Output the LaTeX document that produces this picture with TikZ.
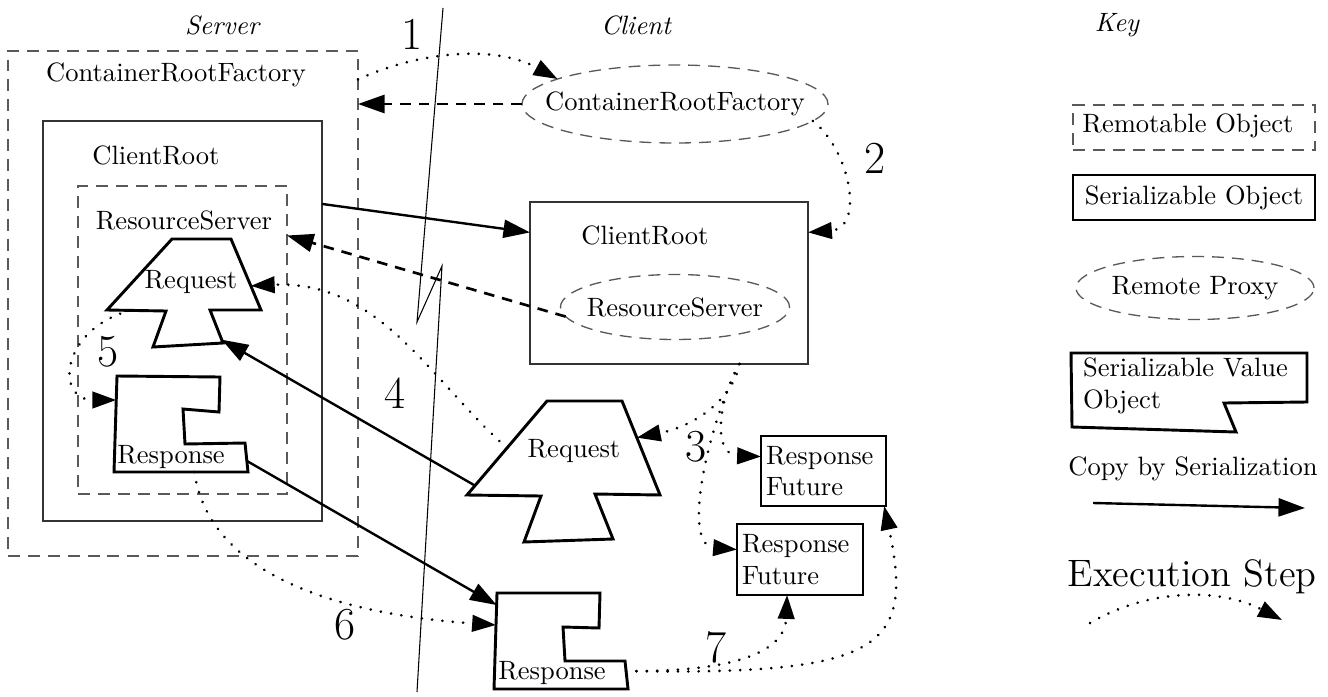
\documentclass[tikz,border=0pt]{standalone}
\usetikzlibrary{arrows.meta,shapes.geometric,fit}
\begin{document}
\begin{tikzpicture}[x=0.377pt, y=-0.377pt,
  every node/.style={inner sep=0pt, outer sep=0pt},
  remotable/.style={draw=black!65, line width=0.6pt, dash pattern=on 4.5pt off 3pt},
  serial/.style={draw=black!80, line width=0.5pt},
  proxy/.style={ellipse, draw=black!65, line width=0.5pt, dash pattern=on 4.5pt off 3pt},
  valueobj/.style={draw, line width=1.1pt, line join=miter},
  copyarrow/.style={line width=0.9pt, -{Triangle[length=10pt,width=6.8pt]}},
  refarrow/.style={line width=1pt, dash pattern=on 4pt off 3pt, -{Triangle[length=10pt,width=6.8pt]}},
  stepline/.style={line width=1.1pt, dash pattern=on 0.01pt off 3.9pt, line cap=round, -{Triangle[length=9pt,width=6.2pt]}},
  stepno/.style={font=\LARGE},
  side/.style={font=\itshape},
  sz/.style 2 args={minimum width=#1*0.377pt, minimum height=#2*0.377pt}
]
\useasboundingbox (0,0) rectangle (1328,696);

% column headings
\node[side] (hdSrv) at (222,25) {Server};
\node[side] (hdCli) at (636,25) {Client};
\node[side] (hdKey) at (1117,25) {Key};

% network boundary with its break
\draw[line width=0.4pt] (443,8) -- (417,322) -- (442,266) -- (417,692);

% ---------------- server side ----------------
\node[remotable, fit={(8,51) (358,556)}] (srvCRF) {};
\node (srvCRFlbl) at (176,75) {ContainerRootFactory};
\node[serial, fit={(43,121) (322,521)}] (srvCR) {};
\node (srvCRlbl) at (156,155) {ClientRoot};
\node[remotable, fit={(78,186) (287,494)}] (srvRS) {};
\node (srvRSlbl) at (184,220) {ResourceServer};

% request object
\draw[valueobj] (107,310) -- (172,239) -- (231,239)
  -- coordinate[pos=0.66] (srvReqR) (261,310) -- (210,310)
  -- coordinate[pos=0.9] (srvReqS) (223,343) -- (153,347) -- (166,311)
  -- coordinate[pos=0.61] (srvReqB) cycle;
\node (srvReq) at (191,282) {Request};

% response object
\draw[valueobj] (248,472) -- coordinate[pos=0.4] (srvRespB) (114,472)
  -- coordinate[pos=0.75] (srvRespL) (117,376) -- (220,377) -- (219,412)
  -- (183,409) -- (185,444) -- (245,443) -- cycle;
\coordinate (srvRespR) at (247,461);
\node (srvResp) at (171,457) {Response};

% ---------------- client side ----------------
\node[proxy, sz={306}{78}] (cliCRF) at (675,104) {};
\node (cliCRFlbl) at (cliCRF) {ContainerRootFactory};
\node[serial, fit={(530,202) (808,364)}] (cliCR) {};
\node (cliCRlbl) at (645,235) {ClientRoot};
\node[proxy, sz={229}{65}] (cliRS) at (675,307) {};
\node (cliRSlbl) at (cliRS) {ResourceServer};

\draw[valueobj] (467,495) -- coordinate[pos=0.1] (cliReqL) coordinate[pos=0.5] (cliReqM) (547,401)
  -- (622,401) -- coordinate[pos=0.39] (cliReqR) (660,495) -- (595,494)
  -- (613,539) -- (524,542) -- (541,496) -- cycle;
\node (cliReq) at (574,451) {Request};

\draw[valueobj] (494,689) -- coordinate[pos=0.667] (cliRespL) coordinate[pos=0.875] (cliRespT) (497,593)
  -- (600,593) -- (599,628) -- (563,627) -- (565,661) -- (625,661)
  -- coordinate[pos=0.36] (cliRespR) (628,689) -- cycle;
\node (cliResp) at (552,673) {Response};

\node[draw, line width=0.5pt, fit={(761,436) (886,506)}] (RF1) {};
\node[align=left, anchor=west] (RF1lbl) at (766,471) {Response\\Future};
\node[draw, line width=0.5pt, fit={(737,524) (863,595)}] (RF2) {};
\node[align=left, anchor=west] (RF2lbl) at (742,559.5) {Response\\Future};

% ---------------- connectors ----------------
\draw[stepline] (srvCRF.52) .. controls (410,55) and (490,42) .. (cliCRF.168);
\draw[refarrow] (cliCRF.west) -- (srvCRF.east |- cliCRF.west);
\draw[stepline] (cliCRF.-7) .. controls (850,150) and (865,228) .. (cliCR.20);
\draw[copyarrow] (srvCR.40) -- (cliCR.160);
\draw[refarrow] (cliRS.185) -- (srvRS.45);

\draw[stepline] (cliCR.-49) .. controls (734,395) and (700,425) .. (cliReqR);
\draw[stepline] (cliCR.-49) .. controls (718,400) and (712,455) .. (RF1.167);
\draw[stepline] (cliCR.-49) .. controls (710,420) and (680,545) .. (RF2.171);

\draw[stepline] (cliReqM) .. controls (430,380) and (380,280) .. (srvReqR);
\draw[copyarrow] (cliReqL) -- (srvReqS);
\draw[stepline] (srvReqB) .. controls (60,330) and (55,400) .. (srvRespL);
\draw[copyarrow] (srvRespR) -- (cliRespT);
\draw[stepline] (srvRespB) .. controls (210,580) and (350,615) .. (cliRespL);
\draw[stepline] (cliRespR) .. controls (740,672) and (785,650) .. (RF2.-110);
\draw[stepline] (cliRespR) .. controls (880,675) and (915,650) .. (RF1.-30);

% step numbers
\node[stepno] (n1) at (412,34) {1};
\node[stepno] (n2) at (875,158) {2};
\node[stepno] (n3) at (696,447) {3};
\node[stepno] (n4) at (395,393) {4};
\node[stepno] (n5) at (108,352) {5};
\node[stepno] (n6) at (345,625) {6};
\node[stepno] (n7) at (716,647) {7};

% ---------------- key ----------------
\node[remotable, fit={(1073,105) (1315,150)}] (keyRem) {};
\node (keyRemlbl) at (1188,126) {Remotable Object};
\node[draw, line width=0.5pt, fit={(1073,175) (1315,220)}] (keySer) {};
\node (keySerlbl) at (keySer) {Serializable Object};
\node[proxy, sz={238}{63}] (keyProxy) at (1195,288) {};
\node (keyProxylbl) at (keyProxy) {Remote Proxy};
\draw[valueobj] (1071,353) -- (1307,353) -- (1307,402) -- (1224,403) -- (1236,432) -- (1072,427) -- cycle;
\node[align=left, anchor=west] (keyVal) at (1083,386) {Serializable Value\\Object};
\node (keyCopy) at (1193,469) {Copy by Serialization};
\coordinate (keyCopyA) at (1093,503);
\coordinate (keyCopyB) at (1305,508);
\draw[copyarrow] (keyCopyA) -- (keyCopyB);
\node[font=\Large] (keyStep) at (1192,577) {Execution Step};
\coordinate (keyStepA) at (1090,623);
\coordinate (keyStepB) at (1282,620);
\draw[stepline] (keyStepA) .. controls (1150,588) and (1220,588) .. (keyStepB);
\end{tikzpicture}
\end{document}
